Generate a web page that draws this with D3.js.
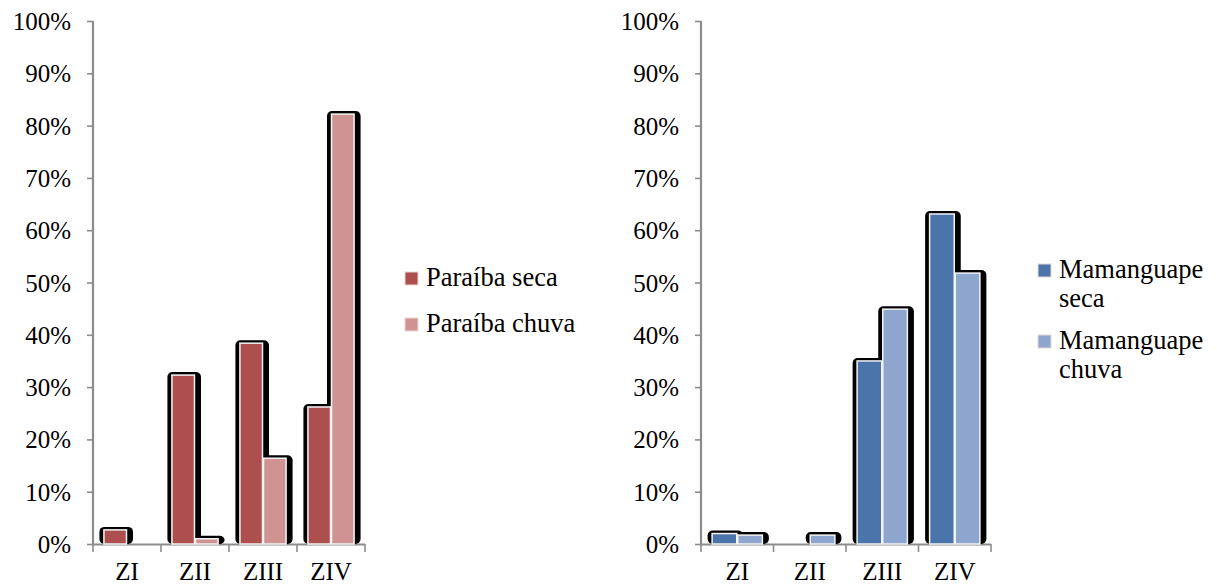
<!DOCTYPE html>
<html>
<head>
<meta charset="utf-8">
<script src="https://cdn.jsdelivr.net/npm/d3@7"></script>
<style>
  html, body { margin: 0; padding: 0; background: #fff; }
  svg { display: block; }
  text { font-family: "Liberation Serif", "Times New Roman", serif; fill: #000; }
</style>
</head>
<body>
<svg id="chart" width="1217" height="585"></svg>
<script>
// Zones along the estuary
const zones = ["ZI", "ZII", "ZIII", "ZIV"];
const yTicks = [0, 0.1, 0.2, 0.3, 0.4, 0.5, 0.6, 0.7, 0.8, 0.9, 1.0];

// Paraíba estuary (share of records per zone)
const paraibaSeca  = [0.027, 0.323, 0.384, 0.262];
const paraibaChuva = [0.000, 0.010, 0.164, 0.822];

// Mamanguape estuary
const mamanguapeSeca  = [0.020, 0.000, 0.350, 0.631];
const mamanguapeChuva = [0.017, 0.017, 0.449, 0.518];

const svg = d3.select("#chart");

function drawPanel(cfg) {
  const y = d3.scaleLinear().domain([0, 1]).range([544, 21]);
  const x = d3.scaleBand().domain(zones).range([cfg.x0, cfg.x1]).paddingInner(0).paddingOuter(0);
  const inner = d3.scaleBand().domain(["seca", "chuva"]).range([0, x.bandwidth()]).paddingOuter(cfg.pad / (x.bandwidth() / 2) ).paddingInner(0);

  const g = svg.append("g");

  // y axis
  const yAxis = d3.axisLeft(y).tickValues(yTicks).tickFormat(d3.format(".0%")).tickSize(6).tickPadding(16);
  const ya = g.append("g").attr("transform", `translate(${cfg.x0},0)`).call(yAxis);
  ya.select(".domain").attr("stroke", "#8c8c8c").attr("stroke-width", 2.2).attr("d", `M0,${y(1)}V${y(0)}`);
  ya.selectAll(".tick line").attr("stroke", "#8c8c8c").attr("stroke-width", 1.6);
  ya.selectAll(".tick text").attr("font-size", 25).attr("font-family", "Liberation Serif").attr("dy", "0.34em");

  // x axis
  const xa = g.append("g").attr("transform", `translate(0,${y(0)})`);
  xa.append("line").attr("x1", cfg.x0).attr("x2", cfg.x1).attr("y1", 0.5).attr("y2", 0.5)
    .attr("stroke", "#8c8c8c").attr("stroke-width", 2.2);
  const edges = zones.map(z => x(z)).concat([cfg.x1]);
  xa.selectAll("line.tk").data(edges).join("line").attr("class", "tk")
    .attr("x1", d => d).attr("x2", d => d).attr("y1", 0).attr("y2", 8)
    .attr("stroke", "#8c8c8c").attr("stroke-width", 1.6);
  xa.selectAll("text").data(zones).join("text")
    .attr("x", d => x(d) + x.bandwidth() / 2).attr("y", 36)
    .attr("text-anchor", "middle").attr("font-size", 25).text(d => d);

  const rows = [];
  zones.forEach((z, i) => {
    rows.push({ zone: z, key: "seca", v: cfg.seca[i], color: cfg.colors[0] });
    rows.push({ zone: z, key: "chuva", v: cfg.chuva[i], color: cfg.colors[1] });
  });
  const bw = inner.bandwidth();

  // black rounded backing behind each bar
  g.append("g").selectAll("rect").data(rows.filter(d => d.v > 0)).join("rect")
    .attr("x", d => x(d.zone) + inner(d.key) - 4)
    .attr("y", d => y(d.v) - 3)
    .attr("width", bw + 10)
    .attr("height", d => y(0) - y(d.v) + 3)
    .attr("rx", 5).attr("ry", 5)
    .attr("fill", "#000");

  // bars
  g.append("g").selectAll("rect").data(rows.filter(d => d.v > 0)).join("rect")
    .attr("x", d => x(d.zone) + inner(d.key) + 0.5)
    .attr("y", d => y(d.v))
    .attr("width", bw - 1)
    .attr("height", d => y(0) - y(d.v))
    .attr("fill", d => d.color)
    .attr("stroke", "#f4f4f4").attr("stroke-width", 1.5);

  // legend
  const lg = g.append("g");
  cfg.legend.forEach((item, i) => {
    const ly = cfg.legendY[i];
    lg.append("rect").attr("x", cfg.legendX).attr("y", ly - 13).attr("width", 13).attr("height", 13)
      .attr("fill", cfg.colors[i]).attr("stroke", "#e8d8d8").attr("stroke-width", 1);
    const t = lg.append("text").attr("x", cfg.legendX + 21).attr("y", ly + 1).attr("font-size", 26.5);
    item.forEach((line, j) => {
      t.append("tspan").attr("x", cfg.legendX + 21).attr("dy", j === 0 ? 0 : 29).text(line);
    });
  });
}

drawPanel({
  x0: 93, x1: 365, pad: 15,
  seca: paraibaSeca, chuva: paraibaChuva,
  colors: ["#ad4f4f", "#d09393"],
  legend: [["Paraíba seca"], ["Paraíba chuva"]],
  legendX: 405, legendY: [285, 331]
});

drawPanel({
  x0: 701, x1: 991, pad: 15,
  seca: mamanguapeSeca, chuva: mamanguapeChuva,
  colors: ["#4a74aa", "#8ea6cd"],
  legend: [["Mamanguape", "seca"], ["Mamanguape", "chuva"]],
  legendX: 1038, legendY: [277, 348]
});
</script>
</body>
</html>
